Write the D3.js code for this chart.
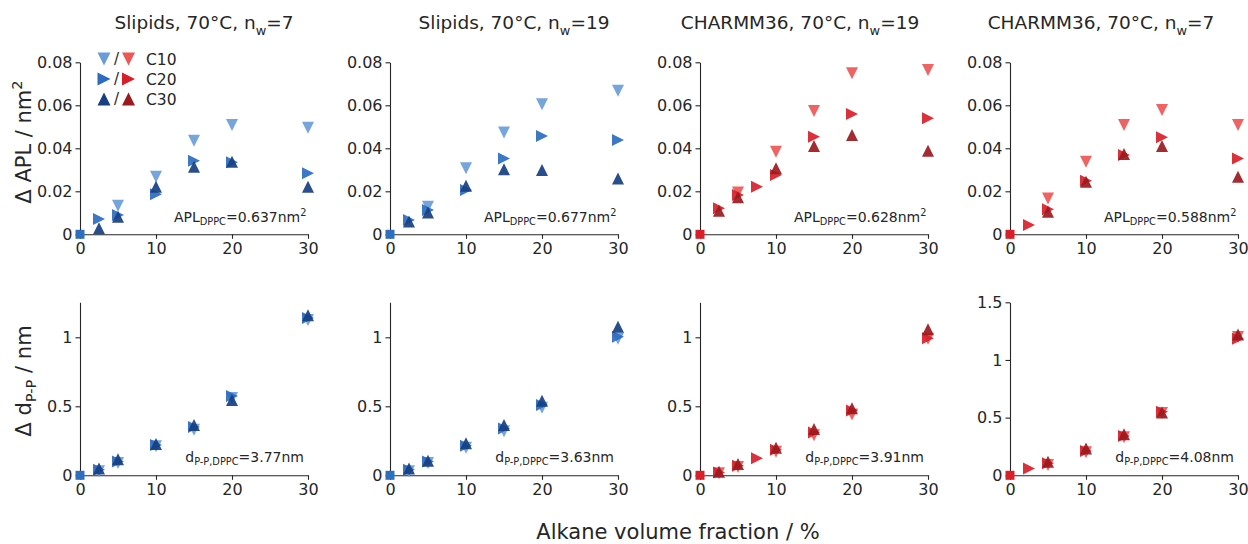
<!DOCTYPE html>
<html>
<head>
<meta charset="utf-8">
<script src="https://cdn.jsdelivr.net/npm/d3@7"></script>
<style>
  body { margin: 0; background: #fff; }
  svg text { font-family: "DejaVu Sans", sans-serif; fill: #262626; }
</style>
</head>
<body>
<svg id="chart" width="1248" height="544"></svg>
<script>
// panel titles (subscript part kept separate)
const titles = [
  ['Slipids, 70°C, n', 'w', '=7'],
  ['Slipids, 70°C, n', 'w', '=19'],
  ['CHARMM36, 70°C, n', 'w', '=19'],
  ['CHARMM36, 70°C, n', 'w', '=7'],
];
const aplRef = ['0.637', '0.677', '0.628', '0.588'];
const dppRef = ['3.77', '3.63', '3.91', '4.08'];
const chains = ['C10', 'C20', 'C30'];
const xTicks = [0, 10, 20, 30];
const aplTicks = [0, 0.02, 0.04, 0.06, 0.08];
const dppTicks = [0, 0.5, 1];
const dppTicksWide = [0, 0.5, 1, 1.5];

// Delta APL (nm^2) vs alkane volume fraction (%)
const aplSlip7C10 = [[5, 0.0133], [10, 0.0268], [15, 0.0435], [20, 0.0508], [30, 0.0496]];
const aplSlip7C20 = [[2.5, 0.0071], [5, 0.009], [10, 0.0186], [15, 0.0342], [20, 0.0335], [30, 0.0284]];
const aplSlip7C30 = [[2.5, 0.0028], [5, 0.0082], [10, 0.0221], [15, 0.0314], [20, 0.0338], [30, 0.0221]];
const aplSlip19C10 = [[5, 0.0128], [10, 0.0307], [15, 0.0474], [20, 0.0605], [30, 0.0668]];
const aplSlip19C20 = [[2.5, 0.0067], [5, 0.0113], [10, 0.0206], [15, 0.0353], [20, 0.0457], [30, 0.0439]];
const aplSlip19C30 = [[2.5, 0.0059], [5, 0.0101], [10, 0.0226], [15, 0.0302], [20, 0.0299], [30, 0.026]];
const aplCh19C10 = [[5, 0.0194], [10, 0.0384], [15, 0.0573], [20, 0.0749], [30, 0.0764]];
const aplCh19C20 = [[2.5, 0.0121], [5, 0.0183], [7.5, 0.0221], [10, 0.0276], [15, 0.0454], [20, 0.056], [30, 0.054]];
const aplCh19C30 = [[2.5, 0.011], [5, 0.0172], [10, 0.0307], [15, 0.0411], [20, 0.0462], [30, 0.0389]];
const aplCh7C10 = [[5, 0.0167], [10, 0.0338], [15, 0.0508], [20, 0.0578], [30, 0.0508]];
const aplCh7C20 = [[2.5, 0.0043], [5, 0.0116], [10, 0.0249], [15, 0.0369], [20, 0.0451], [30, 0.0353]];
const aplCh7C30 = [[5, 0.0105], [10, 0.0245], [15, 0.0373], [20, 0.0411], [30, 0.0268]];

// Delta d_P-P (nm)
const dppSlip7C10 = [[2.5, 0.03], [5, 0.09], [10, 0.21], [15, 0.33], [20, 0.56], [30, 1.125]];
const dppSlip7C20 = [[2.5, 0.04], [5, 0.1], [10, 0.22], [15, 0.35], [20, 0.575], [30, 1.14]];
const dppSlip7C30 = [[2.5, 0.05], [5, 0.116], [10, 0.227], [15, 0.364], [20, 0.546], [30, 1.16]];
const dppSlip19C10 = [[2.5, 0.03], [5, 0.09], [10, 0.2], [15, 0.32], [20, 0.49], [30, 0.99]];
const dppSlip19C20 = [[2.5, 0.04], [5, 0.1], [10, 0.215], [15, 0.34], [20, 0.51], [30, 1.004]];
const dppSlip19C30 = [[2.5, 0.05], [5, 0.106], [10, 0.232], [15, 0.365], [20, 0.541], [30, 1.077]];
const dppCh19C10 = [[2.5, 0.015], [5, 0.06], [10, 0.17], [15, 0.29], [20, 0.44], [30, 0.99]];
const dppCh19C20 = [[2.5, 0.02], [5, 0.07], [7.5, 0.123], [10, 0.185], [15, 0.31], [20, 0.47], [30, 0.993]];
const dppCh19C30 = [[2.5, 0.026], [5, 0.082], [10, 0.2], [15, 0.335], [20, 0.485], [30, 1.058]];
const dppCh7C10 = [[5, 0.09], [10, 0.2], [15, 0.33], [20, 0.54], [30, 1.2]];
const dppCh7C20 = [[2.5, 0.06], [5, 0.105], [10, 0.21], [15, 0.34], [20, 0.55], [30, 1.184]];
const dppCh7C30 = [[5, 0.118], [10, 0.233], [15, 0.357], [20, 0.545], [30, 1.221]];

const aplSets = [
  [aplSlip7C10, aplSlip7C20, aplSlip7C30],
  [aplSlip19C10, aplSlip19C20, aplSlip19C30],
  [aplCh19C10, aplCh19C20, aplCh19C30],
  [aplCh7C10, aplCh7C20, aplCh7C30],
];
const dppSets = [
  [dppSlip7C10, dppSlip7C20, dppSlip7C30],
  [dppSlip19C10, dppSlip19C20, dppSlip19C30],
  [dppCh19C10, dppCh19C20, dppCh19C30],
  [dppCh7C10, dppCh7C20, dppCh7C30],
];

const blues = ['#6a9dd8', '#2c6cc0', '#173f82'];
const reds = ['#ef5656', '#d81f29', '#9a1a20'];
const panelColors = [blues, blues, reds, reds];
const squareColors = ['#2e6ebf', '#2e6ebf', '#d9202a', '#d9202a'];
const shapes = ['down', 'right', 'up'];

const svg = d3.select('#chart');

const panelLeft = [80, 390, 700, 1010];
const panelW = 228;
const titleX = [204, 514, 800, 1101];

function markerPath(kind, s) {
  if (kind === 'down') return `M${-s},${-s}L${s},${-s}L0,${s}Z`;
  if (kind === 'up') return `M${-s},${s}L${s},${s}L0,${-s}Z`;
  if (kind === 'right') return `M${-s},${-s}L${s},0L${-s},${s}Z`;
  return `M${-s},${-s}h${2 * s}v${2 * s}h${-2 * s}Z`;
}

// text with sub/superscripts: parts = [text, mode] where mode '' | 'sub' | 'sup'
function richText(sel, parts, size, subShift) {
  let cur = 0;
  parts.forEach(([t, mode]) => {
    const shift = mode === 'sub' ? subShift : mode === 'sup' ? -size * 0.42 : 0;
    sel.append('tspan')
      .attr('dy', shift - cur)
      .style('font-size', (mode ? size * 0.7 : size) + 'px')
      .text(t);
    cur = shift;
  });
}

function drawPanel(i, row) {
  const x0 = panelLeft[i];
  const x = d3.scaleLinear().domain([0, 30]).range([x0, x0 + panelW]);
  let y, ticks, sets;
  if (row === 0) {
    y = d3.scaleLinear().domain([0, 0.08]).range([234.3, 62.3]);
    ticks = aplTicks;
    sets = aplSets[i];
  } else {
    const top = i === 3 ? 1.5 : 1.2536;
    y = d3.scaleLinear().domain([0, top]).range([475.3, 302.3]);
    ticks = i === 3 ? dppTicksWide : dppTicks;
    sets = dppSets[i];
  }
  const g = svg.append('g');

  const yAxis = g.append('g')
    .attr('transform', `translate(${x0},0)`)
    .call(d3.axisLeft(y).tickValues(ticks).tickFormat(d => String(d))
      .tickSize(4.5).tickSizeOuter(0).tickPadding(3));
  const xAxis = g.append('g')
    .attr('transform', `translate(0,${y(0)})`)
    .call(d3.axisBottom(x).tickValues(xTicks).tickFormat(d => String(d))
      .tickSize(4.5).tickSizeOuter(0).tickPadding(4));
  [xAxis, yAxis].forEach(a => {
    a.selectAll('path, line').attr('stroke', '#262626').attr('stroke-width', 1.1);
    a.selectAll('text').style('font-size', '16px').attr('fill', '#262626');
  });

  // reference point at origin
  g.append('path')
    .attr('d', markerPath('square', 4.5))
    .attr('transform', `translate(${x(0)},${y(0)})`)
    .attr('fill', squareColors[i]);

  sets.forEach((series, k) => {
    g.append('g').selectAll('path')
      .data(series)
      .join('path')
      .attr('d', markerPath(shapes[k], 6))
      .attr('transform', d => `translate(${x(d[0])},${y(d[1])})`)
      .attr('fill', panelColors[i][k])
      .attr('fill-opacity', 0.92);
  });

  // annotation
  const ann = g.append('text')
    .attr('text-anchor', 'end')
    .attr('x', x0 + panelW - (row === 0 ? 1.5 : 4))
    .attr('y', row === 0 ? 222 : 462);
  if (row === 0) {
    richText(ann, [['APL', ''], ['DPPC', 'sub'], ['=' + aplRef[i] + 'nm', ''], ['2', 'sup']], 14, 3);
  } else {
    richText(ann, [['d', ''], ['P-P,DPPC', 'sub'], ['=' + dppRef[i] + 'nm', '']], 14, 3);
  }
}

for (let i = 0; i < 4; i++) {
  drawPanel(i, 0);
  drawPanel(i, 1);
  const t = svg.append('text')
    .attr('x', titleX[i]).attr('y', 29)
    .attr('text-anchor', 'middle');
  richText(t, [[titles[i][0], ''], [titles[i][1], 'sub'], [titles[i][2], '']], 18.5, 6);
}

// legend
const legendRows = [59, 79, 99];
chains.forEach((c, k) => {
  const ly = legendRows[k];
  svg.append('path').attr('d', markerPath(shapes[k], 6.5))
    .attr('transform', `translate(104,${ly})`).attr('fill', blues[k]);
  svg.append('text').attr('x', 116.5).attr('y', ly).attr('dy', '0.36em')
    .attr('text-anchor', 'middle').style('font-size', '15px').text('/');
  svg.append('path').attr('d', markerPath(shapes[k], 6.5))
    .attr('transform', `translate(128.5,${ly})`).attr('fill', reds[k]);
  svg.append('text').attr('x', 146).attr('y', ly).attr('dy', '0.36em')
    .style('font-size', '15.5px').text(c);
});

// axis labels
const yl1 = svg.append('text')
  .attr('transform', 'translate(31,142) rotate(-90)')
  .attr('text-anchor', 'middle');
richText(yl1, [['Δ APL / nm', ''], ['2', 'sup']], 21, 5);

const yl2 = svg.append('text')
  .attr('transform', 'translate(31,381) rotate(-90)')
  .attr('text-anchor', 'middle');
richText(yl2, [['Δ d', ''], ['P-P', 'sub'], [' / nm', '']], 21, 5);

svg.append('text')
  .attr('x', 678).attr('y', 539)
  .attr('text-anchor', 'middle')
  .style('font-size', '21px')
  .text('Alkane volume fraction / %');
</script>
</body>
</html>
